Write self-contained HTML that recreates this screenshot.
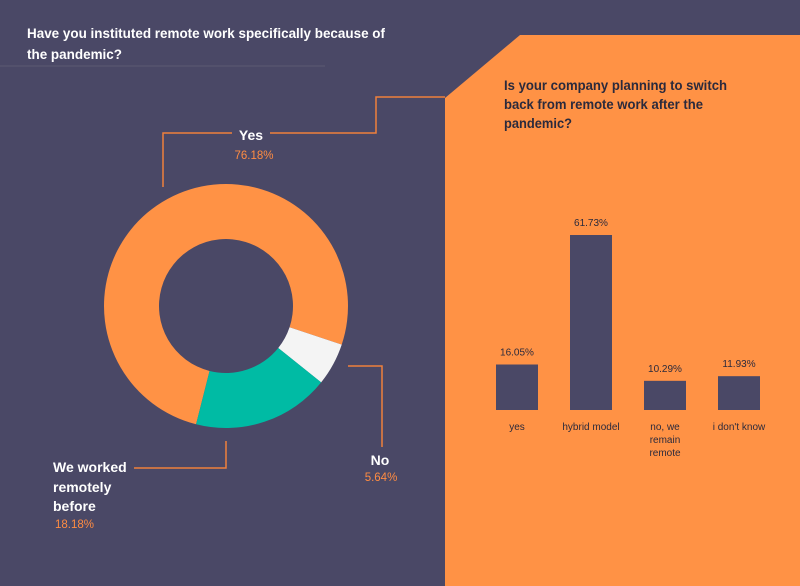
<!DOCTYPE html>
<html><head><meta charset="utf-8"><style>
body{margin:0;width:800px;height:586px;overflow:hidden;background:#4a4866;font-family:"Liberation Sans",sans-serif}
svg{display:block}
</style></head><body>
<svg id="c" width="800" height="586">
<rect width="800" height="586" fill="#4a4866"/>
<text x="27" y="38" fill="#fff" font-size="14" font-weight="bold" textLength="358" lengthAdjust="spacingAndGlyphs">Have you instituted remote work specifically because of</text>
<text x="27" y="59" fill="#fff" font-size="14" font-weight="bold" textLength="95" lengthAdjust="spacingAndGlyphs">the pandemic?</text>
<line x1="0" y1="66" x2="325" y2="66" stroke="#56546f" stroke-width="1.5"/>
<polygon points="445,98 520,35 800,35 800,586 445,586" fill="#ff9245"/>
<text x="504" y="90" fill="#2b2a3c" font-size="14" font-weight="bold" textLength="223" lengthAdjust="spacingAndGlyphs">Is your company planning to switch</text>
<text x="504" y="109" fill="#2b2a3c" font-size="14" font-weight="bold" textLength="199" lengthAdjust="spacingAndGlyphs">back from remote work after the</text>
<text x="504" y="128" fill="#2b2a3c" font-size="14" font-weight="bold" textLength="68" lengthAdjust="spacingAndGlyphs">pandemic?</text>
<g fill="none" stroke="#f0803c" stroke-width="1.5">
<polyline points="445,97 376,97 376,133 270,133"/>
<polyline points="232,133 163,133 163,187"/>
<polyline points="348,366 382,366 382,447"/>
<polyline points="226,441 226,468 134,468"/>
</g>
<text x="251" y="140" fill="#fff" font-size="14" font-weight="bold" text-anchor="middle">Yes</text>
<text x="254" y="159" fill="#ff8c42" font-size="11.5" text-anchor="middle">76.18%</text>
<text x="380" y="465" fill="#fff" font-size="14" font-weight="bold" text-anchor="middle">No</text>
<text x="381" y="481" fill="#ff8c42" font-size="11.5" text-anchor="middle">5.64%</text>
<text x="53" y="472" fill="#fff" font-size="14" font-weight="bold">We worked</text>
<text x="53" y="492" fill="#fff" font-size="14" font-weight="bold">remotely</text>
<text x="53" y="511" fill="#fff" font-size="14" font-weight="bold">before</text>
<text x="55" y="528" fill="#ff8c42" font-size="11.5">18.18%</text>
<g id="donut"></g>
<g id="bars"></g>
</svg>
<script>
const sliceNames=["yes","no","worked-remotely-before"];
const sliceValues=[76.18,5.64,18.18];
const sliceColors=["#ff9245","#f4f4f4","#00bba4"];
const barCategories=[["yes"],["hybrid model"],["no, we","remain","remote"],["i don't know"]];
const barValues=[16.05,61.73,10.29,11.93];
const barLabels=["16.05%","61.73%","10.29%","11.93%"];

const NS="http://www.w3.org/2000/svg";
const cx=226,cy=306,R=122,r=67,start=194.2;
const total=sliceValues.reduce((a,b)=>a+b,0);
function pt(a,rad){const t=a*Math.PI/180;return [cx+rad*Math.sin(t),cy-rad*Math.cos(t)];}
let ang=start;
const dg=document.getElementById('donut');
sliceValues.forEach((v,i)=>{
  const sw=v/total*360,a0=ang,a1=ang+sw;ang=a1;
  const lg=sw>180?1:0;
  const p0=pt(a0,R),p1=pt(a1,R),q1=pt(a1,r),q0=pt(a0,r);
  const p=document.createElementNS(NS,'path');
  p.setAttribute('d',`M${p0}A${R},${R} 0 ${lg} 1 ${p1}L${q1}A${r},${r} 0 ${lg} 0 ${q0}Z`);
  p.setAttribute('fill',sliceColors[i]);
  
  
  dg.appendChild(p);
});
const base=410,maxH=175,maxV=Math.max(...barValues);
const x0=480,step=74,bw=42;
function yH(v){return v/maxV*maxH;}
const bg=document.getElementById('bars');
barValues.forEach((v,i)=>{
  const cxb=x0+step*(i+0.5),h=yH(v);
  const rc=document.createElementNS(NS,'rect');
  rc.setAttribute('x',cxb-bw/2);rc.setAttribute('y',base-h);rc.setAttribute('width',bw);rc.setAttribute('height',h);
  rc.setAttribute('fill','#4a4866');
  
  
  bg.appendChild(rc);
  const t=document.createElementNS(NS,'text');
  t.setAttribute('x',cxb);t.setAttribute('y',base-h-9);t.setAttribute('text-anchor','middle');
  t.setAttribute('font-size','10');t.setAttribute('fill','#2b2a3c');t.textContent=barLabels[i];
  
  
  bg.appendChild(t);
  barCategories[i].forEach((ln,j)=>{
    const c=document.createElementNS(NS,'text');
    c.setAttribute('x',cxb);c.setAttribute('y',430+j*13);c.setAttribute('text-anchor','middle');
    c.setAttribute('font-size','10');c.setAttribute('fill','#2b2a3c');c.textContent=ln;
    
    
    bg.appendChild(c);
  });
});
</script>
</body></html>
